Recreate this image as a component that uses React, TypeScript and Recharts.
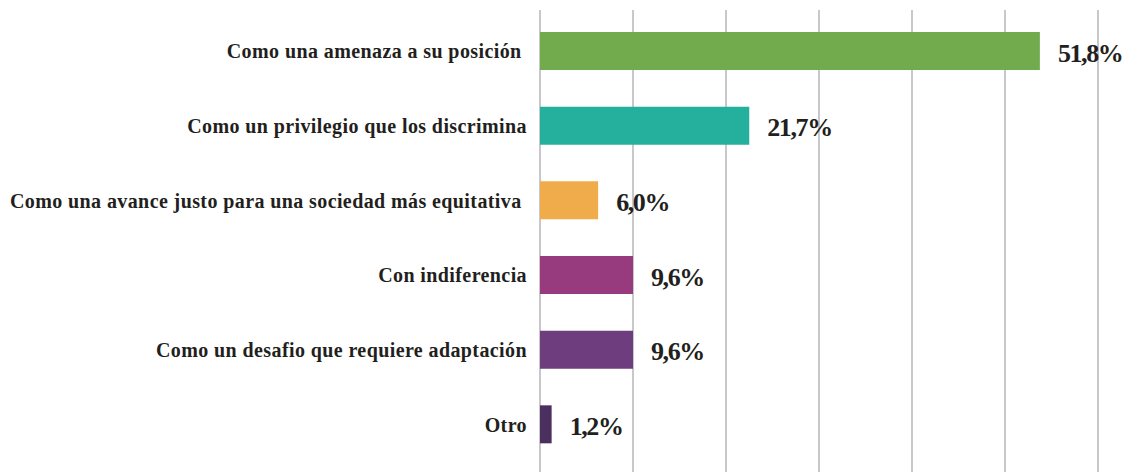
import { BarChart, Bar, XAxis, YAxis, CartesianGrid, Cell, LabelList } from "recharts";

// respuestas (n = 83); la barra es el conteo, la etiqueta el porcentaje
const categories = [
  "Como una amenaza a su posición ",
  "Como un privilegio que los discrimina",
  "Como una avance justo para una sociedad más equitativa ",
  "Con indiferencia",
  "Como un desafio que requiere adaptación",
  "Otro",
];
const counts = [43, 18, 5, 8, 8, 1];
const percentLabels = ["51,8%", "21,7%", "6,0%", "9,6%", "9,6%", "1,2%"];
const colors = ["#71AB4E", "#25AF9D", "#F0AC4A", "#973A7E", "#6D3D7E", "#4A2F5F"];
const xTicks = [0, 8, 16, 24, 32, 40, 48];

const data = categories.map((name, i) => ({
  name,
  count: counts[i],
  label: percentLabels[i],
}));

const SERIF = "Liberation Serif, DejaVu Serif, serif";

function CategoryTick(props: any) {
  const { x, y, payload } = props;
  return (
    <text
      x={x}
      y={y}
      textAnchor="end"
      dominantBaseline="central"
      fill="#231F20"
      style={{ whiteSpace: "pre", fontFamily: SERIF, fontWeight: 700, fontSize: 20, letterSpacing: 0.4 }}
    >
      {payload.value}
    </text>
  );
}

function ValueLabel(props: any) {
  const { x, y, width, height, value } = props;
  return (
    <text
      x={x + width + 18}
      y={y + height / 2 + 2}
      dominantBaseline="central"
      fill="#231F20"
      style={{ fontFamily: SERIF, fontWeight: 700, fontSize: 26, letterSpacing: -1.4 }}
    >
      {value}
    </text>
  );
}

export default function App() {
  return (
    <BarChart
      width={1126}
      height={464}
      data={data}
      layout="vertical"
      margin={{ top: 2, right: 36, left: 0, bottom: 0 }}
      barSize={38}
    >
      <CartesianGrid horizontal={false} stroke="#C8C8CC" strokeWidth={2} />
      <XAxis type="number" domain={[0, 48]} ticks={xTicks} hide />
      <YAxis
        type="category"
        dataKey="name"
        width={532}
        axisLine={false}
        tickLine={false}
        tickSize={0}
        tickMargin={13}
        interval={0}
        padding={{ top: 4, bottom: 10 }}
        tick={<CategoryTick />}
      />
      <Bar dataKey="count" isAnimationActive={false}>
        {data.map((d, i) => (
          <Cell key={d.name} fill={colors[i]} />
        ))}
        <LabelList dataKey="label" content={<ValueLabel />} />
      </Bar>
    </BarChart>
  );
}
